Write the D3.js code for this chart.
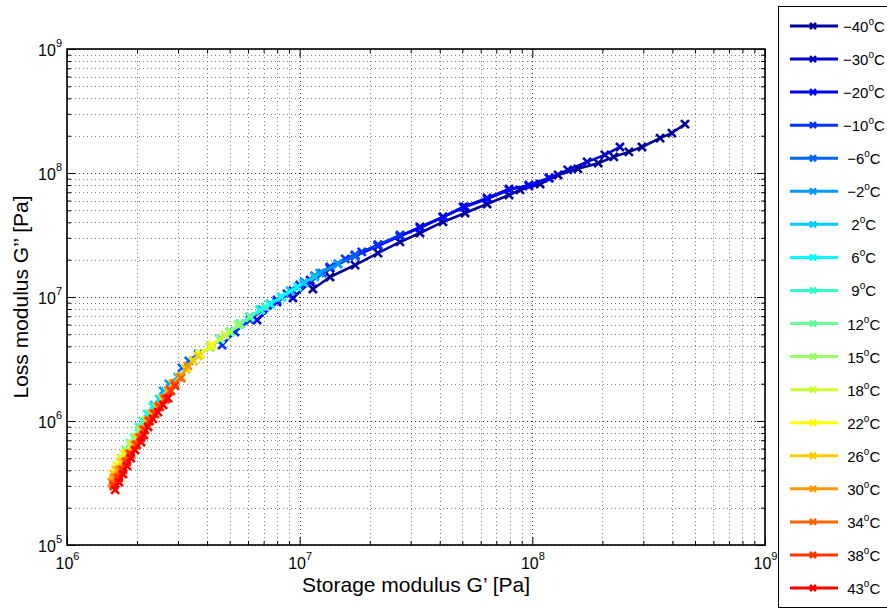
<!DOCTYPE html>
<html><head><meta charset="utf-8">
<script src="https://cdn.jsdelivr.net/npm/d3@7"></script>
<style>
body{margin:0;background:#fff}
svg{display:block;font-family:"Liberation Sans",Arial,Helvetica,sans-serif}
.leg text{white-space:pre}
</style>
</head><body>
<svg id="c" width="887" height="609"></svg>
<script>
// ---------- data ----------
const temperatures = ["−40","−30","−20","−10"," −6"," −2","  2","  6","  9"," 12"," 15"," 18"," 22"," 26"," 30"," 34"," 38"," 43"];
const xTickExps = [6,7,8,9];
const yTickExps = [5,6,7,8,9];
// [G' (Pa), G'' (Pa)]
const tM40 = [[4.53e8,2.48e8],[3.98e8,2.10e8],[3.54e8,1.91e8],[2.96e8,1.62e8],[2.60e8,1.48e8],[2.24e8,1.35e8],[1.92e8,1.20e8],[1.57e8,1.08e8],[1.29e8,9.64e7],[1.08e8,8.15e7],[8.85e7,7.30e7],[7.94e7,6.65e7],[6.39e7,5.62e7],[5.14e7,4.76e7],[4.13e7,4.03e7],[3.29e7,3.28e7],[2.70e7,2.78e7],[2.17e7,2.26e7],[1.73e7,1.81e7],[1.35e7,1.45e7],[1.14e7,1.16e7]];
const tM30 = [[2.38e8,1.62e8],[2.05e8,1.40e8],[1.72e8,1.23e8],[1.42e8,1.06e8],[1.18e8,9.12e7],[9.67e7,7.85e7],[7.94e7,7.43e7],[6.39e7,6.29e7],[5.04e7,5.32e7],[4.13e7,4.42e7],[3.29e7,3.67e7],[2.70e7,3.10e7],[2.17e7,2.63e7],[1.73e7,2.18e7],[1.35e7,1.71e7],[1.11e7,1.32e7],[9.36e6,9.82e6]];
const tM20 = [[1.18e8,9.12e7],[9.67e7,8.00e7],[7.94e7,7.30e7],[6.39e7,6.17e7],[5.14e7,5.32e7],[4.13e7,4.42e7],[3.29e7,3.60e7],[2.70e7,3.10e7],[2.17e7,2.58e7],[1.73e7,2.14e7],[1.35e7,1.71e7],[1.11e7,1.37e7],[9.36e6,1.12e7],[7.99e6,9.11e6],[6.56e6,6.52e6]];
const tM10 = [[2.70e7,3.16e7],[2.17e7,2.63e7],[1.85e7,2.31e7],[1.57e7,2.03e7],[1.35e7,1.75e7],[1.16e7,1.48e7],[1.00e7,1.25e7],[8.82e6,1.06e7],[7.99e6,9.46e6],[6.89e6,7.86e6],[6.12e6,6.52e6],[5.27e6,5.22e6],[4.64e6,4.10e6]];
const tM6 = [[1.73e7,2.14e7],[1.46e7,1.85e7],[1.25e7,1.56e7],[1.05e7,1.32e7],[9.13e6,1.12e7],[8.35e6,1.00e7],[7.48e6,8.78e6],[6.77e6,7.86e6],[6.12e6,6.90e6],[5.54e6,6.06e6],[5.02e6,5.22e6],[4.55e6,4.59e6],[4.12e6,3.95e6],[3.66e6,3.47e6],[3.34e6,3.05e6],[3.12e6,2.68e6]];
const tM2 = [[1.46e7,1.85e7],[1.22e7,1.56e7],[1.04e7,1.30e7],[9.13e6,1.12e7],[8.35e6,1.00e7],[7.48e6,8.78e6],[6.77e6,7.86e6],[6.12e6,6.90e6],[5.54e6,6.06e6],[5.02e6,5.22e6],[4.55e6,4.59e6],[4.12e6,3.95e6],[3.73e6,3.47e6],[3.48e6,3.05e6],[3.25e6,2.63e6],[3.00e6,2.26e6],[2.74e6,1.99e6],[2.59e6,1.75e6]];
const tP2 = [[1.16e7,1.45e7],[1.04e7,1.30e7],[9.13e6,1.12e7],[8.35e6,1.00e7],[7.48e6,8.78e6],[6.77e6,7.86e6],[6.12e6,6.90e6],[5.54e6,6.06e6],[5.02e6,5.22e6],[4.55e6,4.59e6],[4.12e6,3.95e6],[3.73e6,3.47e6],[3.48e6,3.05e6],[3.25e6,2.63e6],[3.06e6,2.26e6],[2.85e6,1.99e6],[2.66e6,1.75e6],[2.49e6,1.50e6],[2.37e6,1.35e6]];
const tP6 = [[9.79e6,1.20e7],[8.35e6,1.00e7],[7.48e6,8.78e6],[6.77e6,7.86e6],[6.12e6,6.90e6],[5.54e6,6.06e6],[5.02e6,5.22e6],[4.55e6,4.59e6],[4.12e6,3.95e6],[3.73e6,3.47e6],[3.48e6,3.05e6],[3.25e6,2.63e6],[3.06e6,2.26e6],[2.85e6,1.99e6],[2.72e6,1.75e6],[2.54e6,1.50e6],[2.34e6,1.30e6],[2.21e6,1.14e6]];
const tP9 = [[7.11e6,8.31e6],[6.12e6,6.90e6],[5.54e6,6.06e6],[5.02e6,5.22e6],[4.55e6,4.59e6],[4.12e6,3.95e6],[3.73e6,3.47e6],[3.48e6,3.05e6],[3.25e6,2.63e6],[3.06e6,2.26e6],[2.85e6,1.99e6],[2.72e6,1.75e6],[2.59e6,1.50e6],[2.44e6,1.30e6],[2.27e6,1.14e6],[2.12e6,1.00e6],[2.04e6,8.95e5]];
const tP12 = [[6.12e6,6.90e6],[5.54e6,6.06e6],[5.02e6,5.22e6],[4.55e6,4.59e6],[4.12e6,3.95e6],[3.73e6,3.47e6],[3.48e6,3.05e6],[3.25e6,2.63e6],[3.06e6,2.26e6],[2.85e6,1.99e6],[2.72e6,1.75e6],[2.59e6,1.50e6],[2.44e6,1.30e6],[2.32e6,1.14e6],[2.21e6,1.00e6],[2.06e6,8.46e5],[1.94e6,7.30e5],[1.87e6,6.65e5]];
const tP15 = [[5.43e6,5.95e6],[5.02e6,5.22e6],[4.55e6,4.59e6],[4.12e6,3.95e6],[3.73e6,3.47e6],[3.48e6,3.05e6],[3.25e6,2.63e6],[3.06e6,2.26e6],[2.85e6,1.99e6],[2.72e6,1.75e6],[2.59e6,1.50e6],[2.44e6,1.30e6],[2.32e6,1.14e6],[2.21e6,1.00e6],[2.10e6,8.46e5],[1.98e6,7.30e5],[1.87e6,6.41e5],[1.79e6,5.84e5]];
const tP18 = [[4.78e6,4.94e6],[4.12e6,3.95e6],[3.73e6,3.47e6],[3.48e6,3.05e6],[3.25e6,2.63e6],[3.06e6,2.26e6],[2.85e6,1.99e6],[2.72e6,1.75e6],[2.59e6,1.50e6],[2.44e6,1.30e6],[2.32e6,1.14e6],[2.21e6,1.00e6],[2.10e6,8.46e5],[2.02e6,7.30e5],[1.90e6,6.41e5],[1.76e6,5.42e5],[1.71e6,5.03e5]];
const tP22 = [[4.20e6,4.10e6],[3.73e6,3.47e6],[3.48e6,3.05e6],[3.25e6,2.63e6],[3.06e6,2.26e6],[2.85e6,1.99e6],[2.72e6,1.75e6],[2.59e6,1.50e6],[2.44e6,1.30e6],[2.32e6,1.14e6],[2.21e6,1.00e6],[2.10e6,8.46e5],[2.02e6,7.30e5],[1.94e6,6.41e5],[1.79e6,5.42e5],[1.69e6,4.67e5],[1.64e6,4.34e5]];
const tP26 = [[3.66e6,3.34e6],[3.51e6,3.05e6],[3.25e6,2.63e6],[3.06e6,2.26e6],[2.85e6,1.99e6],[2.72e6,1.75e6],[2.59e6,1.50e6],[2.44e6,1.30e6],[2.32e6,1.14e6],[2.21e6,1.00e6],[2.10e6,8.46e5],[2.02e6,7.30e5],[1.94e6,6.41e5],[1.83e6,5.42e5],[1.72e6,4.67e5],[1.62e6,4.03e5],[1.59e6,3.74e5]];
const tP30 = [[3.31e6,2.78e6],[3.09e6,2.26e6],[2.88e6,1.99e6],[2.74e6,1.75e6],[2.61e6,1.50e6],[2.46e6,1.30e6],[2.34e6,1.14e6],[2.23e6,1.00e6],[2.12e6,8.46e5],[2.04e6,7.30e5],[1.96e6,6.41e5],[1.85e6,5.42e5],[1.78e6,4.67e5],[1.67e6,4.03e5],[1.59e6,3.47e5],[1.56e6,3.22e5]];
const tP34 = [[3.09e6,2.22e6],[2.91e6,1.99e6],[2.77e6,1.75e6],[2.64e6,1.50e6],[2.49e6,1.30e6],[2.37e6,1.14e6],[2.25e6,1.00e6],[2.14e6,8.46e5],[2.06e6,7.30e5],[1.98e6,6.41e5],[1.87e6,5.42e5],[1.79e6,4.67e5],[1.71e6,4.03e5],[1.64e6,3.47e5],[1.58e6,3.10e5]];
const tP38 = [[2.91e6,1.92e6],[2.80e6,1.75e6],[2.66e6,1.50e6],[2.51e6,1.30e6],[2.39e6,1.14e6],[2.27e6,1.00e6],[2.16e6,8.46e5],[2.08e6,7.30e5],[2.00e6,6.41e5],[1.88e6,5.42e5],[1.81e6,4.67e5],[1.74e6,4.03e5],[1.67e6,3.47e5],[1.59e6,2.99e5]];
const tP43 = [[2.72e6,1.53e6],[2.59e6,1.35e6],[2.46e6,1.18e6],[2.34e6,1.04e6],[2.23e6,8.95e5],[2.14e6,7.71e5],[2.08e6,6.77e5],[1.96e6,5.84e5],[1.88e6,5.03e5],[1.81e6,4.34e5],[1.74e6,3.74e5],[1.67e6,3.22e5],[1.61e6,2.78e5]];
const series = [tM40,tM30,tM20,tM10,tM6,tM2,tP2,tP6,tP9,tP12,tP15,tP18,tP22,tP26,tP30,tP34,tP38,tP43];

// ---------- layout ----------
const M = {l:67, t:49, r:765, b:545};
const x = d3.scaleLog().domain([1e6,1e9]).range([M.l,M.r]);
const y = d3.scaleLog().domain([1e5,1e9]).range([M.b,M.t]);
const svg = d3.select("#c");

// jet(20) colormap, first 18 rows
const jet = t => { const c = v => Math.round(255*Math.max(0,Math.min(1,v)));
  return `rgb(${c(1.5-Math.abs(4*t-3))},${c(1.5-Math.abs(4*t-2))},${c(1.5-Math.abs(4*t-1))})`; };
const colors = temperatures.map((_,i) => jet((i+0.5)/20));

function decadeTicks(exps){
  const major=[], minor=[];
  exps.forEach((e,k)=>{ major.push(Math.pow(10,e));
    if(k<exps.length-1) for(let m=2;m<10;m++) minor.push(m*Math.pow(10,e)); });
  return {major, minor};
}
const XT = decadeTicks(xTickExps), YT = decadeTicks(yTickExps);

// grid
const grid = svg.append("g").attr("fill","none");
XT.minor.concat(XT.major).forEach(v=>{
  const px = Math.round(x(v))+0.5, maj = XT.major.includes(v);
  grid.append("line").attr("x1",px).attr("x2",px).attr("y1",M.t).attr("y2",M.b)
    .attr("stroke","#000").attr("stroke-opacity",maj?0.8:0.5).attr("stroke-dasharray","1,3");
});
YT.minor.concat(YT.major).forEach(v=>{
  const py = Math.round(y(v))+0.5, maj = YT.major.includes(v);
  grid.append("line").attr("y1",py).attr("y2",py).attr("x1",M.l).attr("x2",M.r)
    .attr("stroke","#000").attr("stroke-opacity",maj?0.8:0.5).attr("stroke-dasharray","1,3");
});

// ticks (inward, all four sides)
function addAxis(gen, tr, vals, size){
  const g = svg.append("g").attr("transform",tr)
    .call(gen.tickValues(vals).tickSize(-size).tickSizeOuter(0).tickFormat(()=>""));
  g.select(".domain").remove();
  g.selectAll(".tick line").attr("stroke","#000");
  return g;
}
const gxB = addAxis(d3.axisBottom(x), `translate(0,${M.b})`, XT.major, 8);
addAxis(d3.axisBottom(x), `translate(0,${M.b})`, XT.minor, 4);
addAxis(d3.axisTop(x), `translate(0,${M.t})`, XT.major, 8);
addAxis(d3.axisTop(x), `translate(0,${M.t})`, XT.minor, 4);
const gyL = addAxis(d3.axisLeft(y), `translate(${M.l},0)`, YT.major, 8);
addAxis(d3.axisLeft(y), `translate(${M.l},0)`, YT.minor, 4);
addAxis(d3.axisRight(y), `translate(${M.r},0)`, YT.major, 8);
addAxis(d3.axisRight(y), `translate(${M.r},0)`, YT.minor, 4);

// tick labels 10^n
function supLabels(g, exps, opts){
  g.attr("font-size",null).attr("font-family",null);
  g.selectAll(".tick text").each(function(d,i){
    const t = d3.select(this).text(null).attr("dy",null)
      .attr("x",opts.x).attr("y",opts.y).attr("text-anchor",opts.anchor)
      .attr("font-size",16).attr("fill","#000");
    t.append("tspan").text("10");
    t.append("tspan").attr("dy",-9).attr("font-size",11).text(String(exps[i]));
  });
}
supLabels(gxB, xTickExps, {x:0, y:24, anchor:"middle"});
supLabels(gyL, yTickExps, {x:-5, y:6, anchor:"end"});

// box
svg.append("rect").attr("x",M.l).attr("y",M.t).attr("width",M.r-M.l).attr("height",M.b-M.t)
  .attr("fill","none").attr("stroke","#000").attr("stroke-width",1.6);

// axis titles
svg.append("text").attr("x",(M.l+M.r)/2).attr("y",592).attr("text-anchor","middle")
  .attr("font-size",21).text("Storage modulus G’ [Pa]");
svg.append("text").attr("transform",`translate(28,${(M.t+M.b)/2}) rotate(-90)`).attr("text-anchor","middle")
  .attr("font-size",21).text("Loss modulus G’’ [Pa]");

// series
const xMark = "M-4,-4L4,4M-4,4L4,-4";
const line = d3.line().x(d=>x(d[0])).y(d=>y(d[1]));
series.forEach((s,i)=>{
  const g = svg.append("g");
  g.append("path").attr("d",line(s)).attr("fill","none").attr("stroke",colors[i])
    .attr("stroke-width",2.6).attr("stroke-linejoin","round");
  g.selectAll("path.m").data(s).join("path").attr("class","m")
    .attr("transform",d=>`translate(${x(d[0])},${y(d[1])})`).attr("d",xMark)
    .attr("fill","none").attr("stroke",colors[i]).attr("stroke-width",2.6);
});

// legend
const lg = svg.append("g").attr("class","leg");
lg.append("rect").attr("x",778.5).attr("y",6.5).attr("width",130).attr("height",601)
  .attr("fill","#fff").attr("stroke","#000").attr("stroke-width",1);
temperatures.forEach((lab,i)=>{
  const yy = 26 + i*33.06;
  lg.append("line").attr("x1",790).attr("x2",838).attr("y1",yy).attr("y2",yy)
    .attr("stroke",colors[i]).attr("stroke-width",3);
  lg.append("path").attr("transform",`translate(813,${yy})`).attr("d","M-3,-3L3,3M-3,3L3,-3")
    .attr("fill","none").attr("stroke",colors[i]).attr("stroke-width",2.6);
  const t = lg.append("text").attr("x",843).attr("y",yy+6).attr("font-size",15).attr("fill","#000");
  t.append("tspan").text(lab);
  t.append("tspan").attr("dy",-7).attr("font-size",10).text("o");
  t.append("tspan").attr("dy",7).attr("font-size",15).text("C");
});
</script>
</body></html>
